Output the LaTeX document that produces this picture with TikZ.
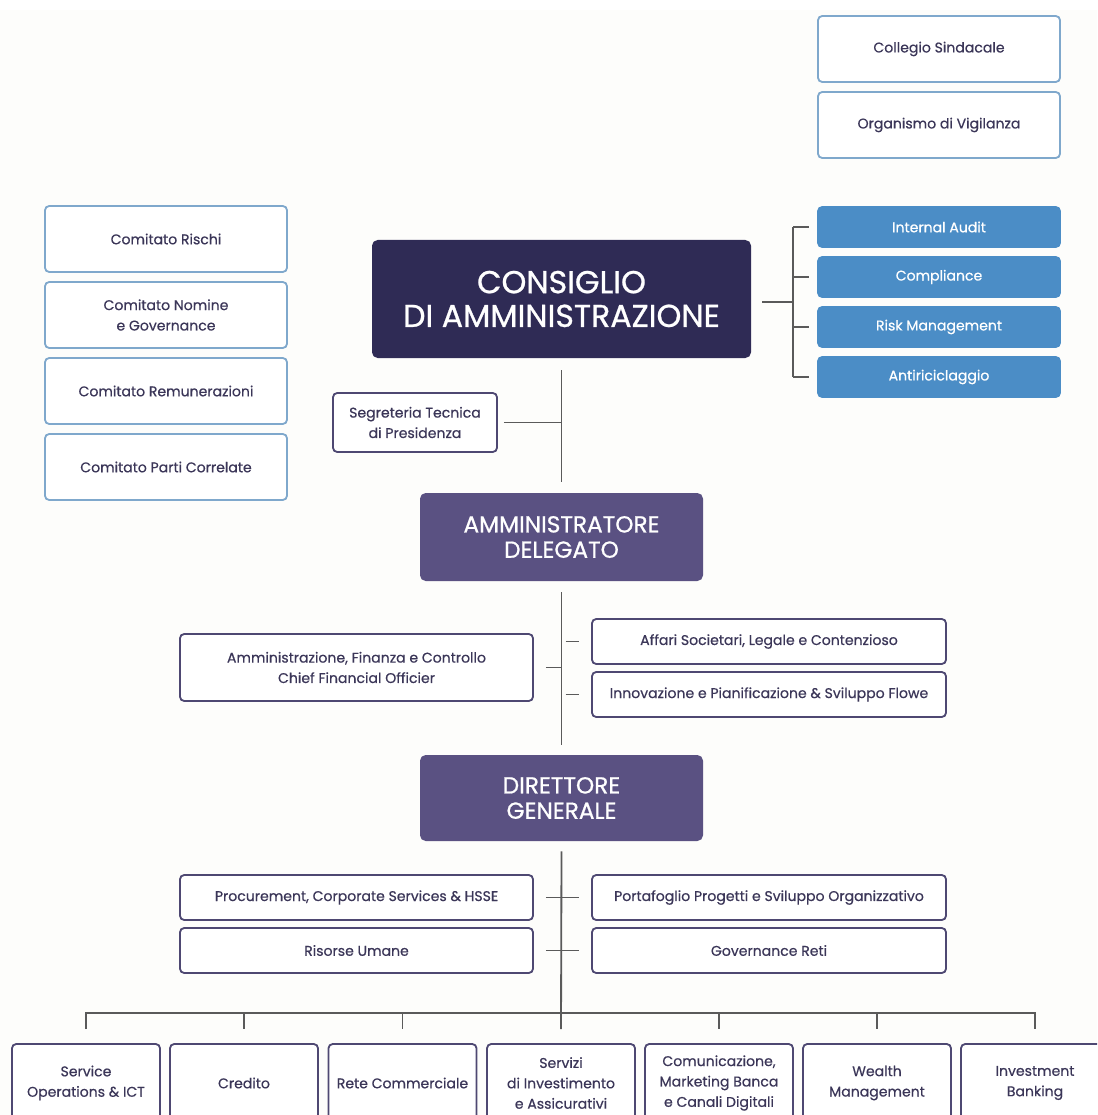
\documentclass[tikz,border=0pt]{standalone}
\usepackage{fontspec}
\setmainfont{Poppins}
\newfontfamily\medf{Poppins}[FakeBold=0.5]
\newfontfamily\titf{Poppins}[FakeBold=0.8]
\usetikzlibrary{calc}
\definecolor{txt}{HTML}{3B3658}
\definecolor{lblue}{HTML}{7FA8CC}
\definecolor{bfill}{HTML}{4B8DC6}
\definecolor{navy}{HTML}{2F2B55}
\definecolor{purp}{HTML}{5A5182}
\definecolor{pborder}{HTML}{4E4872}
\definecolor{lin}{HTML}{5A5A5A}
\definecolor{bg}{HTML}{FDFDFB}
\def\u{0.025cm}
\tikzset{
  base/.style={rounded corners=3pt, line width=1.3pt, align=center, inner sep=2pt, font=\medf\fontsize{10}{14.5}\selectfont, text=txt},
  lbox/.style={base, draw=lblue, fill=white},
  bbox/.style={base, draw=bfill, fill=bfill, text=white},
  pbox/.style={base, draw=pborder, fill=white},
  big/.style={rounded corners=4pt, align=center, fill=navy, text=white, font=\titf\fontsize{22.5}{24}\selectfont},
  mid/.style={rounded corners=4pt, align=center, fill=purp, text=white, font=\titf\fontsize{16.5}{18}\selectfont},
  conn/.style={draw=lin, line width=1.3pt},
  wh/.style 2 args={minimum width=#1*\u, minimum height=#2*\u},
}
\begin{document}
\begin{tikzpicture}[x=0.025cm, y=-0.025cm]
\useasboundingbox (0,0) rectangle (1097,1115);
\clip (0,0) rectangle (1097,1115);
\fill[bg] (0,10) rectangle (1097,1115);
% top right
\node[lbox, wh={242}{66}] (cs) at (939,49) {Collegio Sindacale};
\node[lbox, wh={242}{66}] (odv) at (939,125) {Organismo di Vigilanza};
% committees
\node[lbox, wh={242}{66}] (cr) at (166,239) {Comitato Rischi};
\node[lbox, wh={242}{66}] (cng) at (166,315) {Comitato Nomine\\e Governance};
\node[lbox, wh={242}{66}] (crem) at (166,391) {Comitato Remunerazioni};
\node[lbox, wh={242}{66}] (cpc) at (166,467) {Comitato Parti Correlate};
% board
\node[big, wh={379}{118}] (cda) at (561.5,299) {CONSIGLIO\\DI AMMINISTRAZIONE};
% control functions
\node[bbox, wh={242}{40}] (ia) at (939,227) {Internal Audit};
\node[bbox, wh={242}{40}] (comp) at (939,277) {Compliance};
\node[bbox, wh={242}{40}] (rm) at (939,327) {Risk Management};
\node[bbox, wh={242}{40}] (anti) at (939,377) {Antiriciclaggio};
\coordinate (br) at (793,302);
\draw[conn] ([xshift=11*\u]cda.east |- br) -- (br);
\draw[conn] (br |- ia) -- (br |- anti);
\foreach \n in {ia,comp,rm,anti}{
  \draw[conn] (br |- \n) -- ([xshift=-8*\u]\n.west);
}
% segreteria
\node[pbox, wh={164}{59}] (seg) at (415,422.5) {Segreteria Tecnica\\di Presidenza};
% AD
\node[mid, wh={283}{88}] (ad) at (561.5,537) {AMMINISTRATORE\\DELEGATO};
\draw[conn] ([yshift=-12*\u]cda.south -| ad.north) -- ([yshift=11*\u]ad.north);
\draw[conn] ([xshift=6*\u]seg.east) -- (seg.east -| ad.north);
% level 2
\node[pbox, wh={353}{67}] (afc) at (356.5,667.5) {Amministrazione, Finanza e Controllo\\Chief Financial Officier};
\node[pbox, wh={354}{45}] (aff) at (769,641.5) {Affari Societari, Legale e Contenzioso};
\node[pbox, wh={354}{45}] (inn) at (769,694.5) {Innovazione e Pianificazione \& Sviluppo Flowe};
\node[mid, wh={283}{86}] (dg) at (561.5,798) {DIRETTORE\\GENERALE};
\draw[conn] ([yshift=-11*\u]ad.south) -- ([yshift=10*\u]dg.north);
\draw[conn] ([xshift=12*\u]afc.east) -- (afc.east -| dg.north);
\draw[conn] ([xshift=4*\u]dg.north |- aff.west) -- ([xshift=-12*\u]aff.west);
\draw[conn] ([xshift=4*\u]dg.north |- inn.west) -- ([xshift=-12*\u]inn.west);
% level 3
\node[pbox, wh={353}{45}] (proc) at (356.5,897.5) {Procurement, Corporate Services \& HSSE};
\node[pbox, wh={354}{45}] (port) at (769,897.5) {Portafoglio Progetti e Sviluppo Organizzativo};
\node[pbox, wh={353}{45}] (ru) at (356.5,950.5) {Risorse Umane};
\node[pbox, wh={354}{45}] (gr) at (769,950.5) {Governance Reti};
\draw[conn] ([xshift=12*\u]proc.east) -- ([xshift=-12*\u]port.west);
\draw[conn] ([xshift=12*\u]ru.east) -- ([xshift=-12*\u]gr.west);
% bottom row
\node[pbox, wh={148}{78}] (b1) at (86,1083) {Service\\Operations \& ICT};
\node[pbox, wh={148}{78}] (b2) at (244,1083) {Credito};
\node[pbox, wh={148}{78}] (b3) at (402.5,1083) {Rete Commerciale};
\node[pbox, wh={148}{78}] (b4) at (561,1083) {Servizi\\di Investimento\\e Assicurativi};
\node[pbox, wh={148}{78}] (b5) at (719,1083) {Comunicazione,\\Marketing Banca\\e Canali Digitali};
\node[pbox, wh={148}{78}] (b6) at (877,1083) {Wealth\\Management};
\node[pbox, wh={148}{78}] (b7) at (1035,1083) {Investment\\Banking};
\coordinate (bus) at (561,1013);
\draw[conn] ([yshift=-10*\u]dg.south) -- ([yshift=14*\u]b4.north);
\draw[conn] ([yshift=14*\u]b1.north) -- (b1.north |- bus) -- (b7.north |- bus) -- ([yshift=14*\u]b7.north);
\foreach \n in {b2,b3,b5,b6}{
  \draw[conn] (\n.north |- bus) -- ([yshift=14*\u]\n.north);
}
\end{tikzpicture}
\end{document}
